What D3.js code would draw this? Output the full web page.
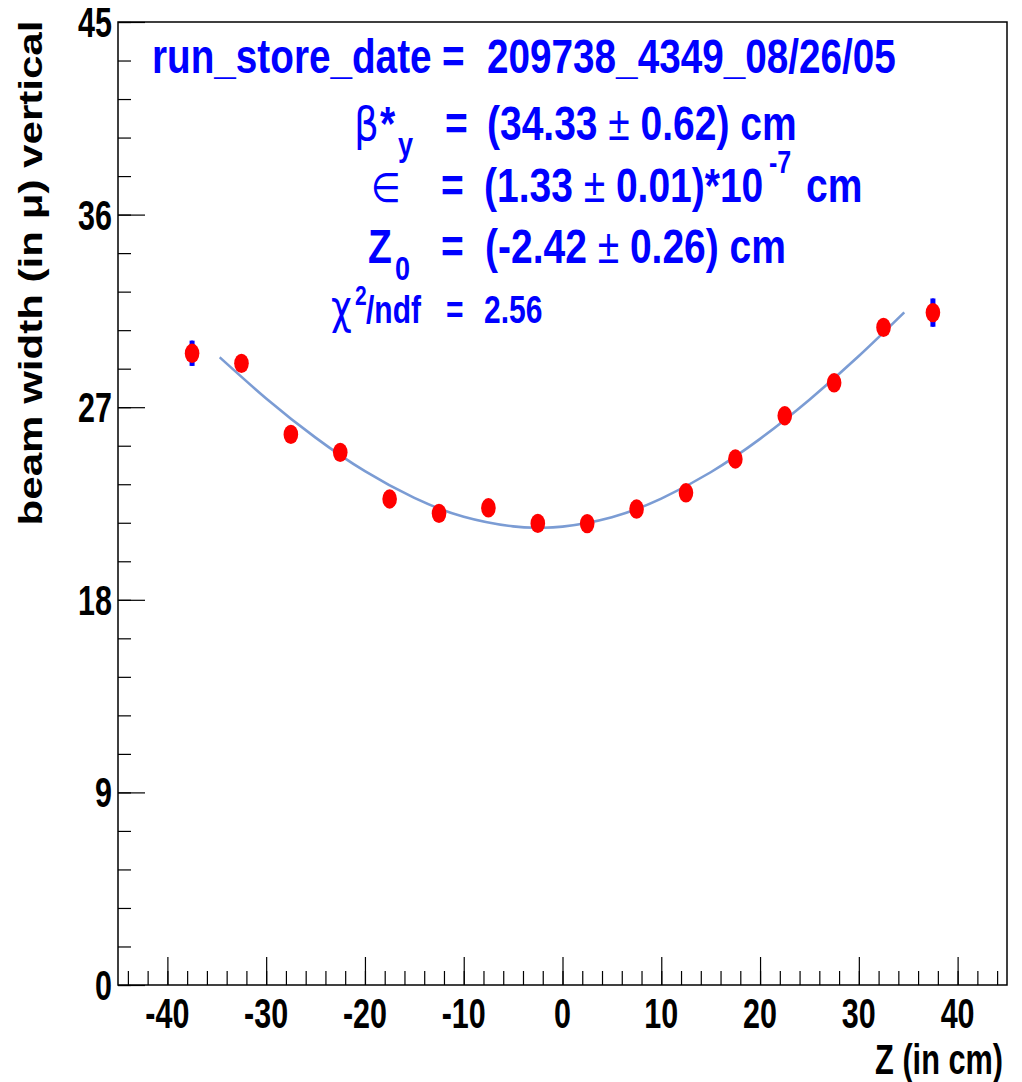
<!DOCTYPE html>
<html>
<head>
<meta charset="utf-8">
<script src="https://cdn.jsdelivr.net/npm/d3@7"></script>
<style>
  body { margin: 0; background: #fff; }
  svg { display: block; }
</style>
</head>
<body>
<div id="chart"></div>
<script>
// beam width vs z, with hourglass fit
const zPos = [-37.5, -32.5, -27.5, -22.5, -17.5, -12.5, -7.5, -2.5, 2.5, 7.5, 12.5, 17.5, 22.5, 27.5, 32.5, 37.5];
const beamWidth = [29.52, 29.05, 25.73, 24.89, 22.71, 22.04, 22.30, 21.57, 21.56, 22.24, 23.00, 24.58, 26.60, 28.14, 30.73, 31.42];
const widthErr = [0.59, 0.35, 0.35, 0.35, 0.35, 0.35, 0.35, 0.35, 0.35, 0.35, 0.35, 0.35, 0.35, 0.35, 0.35, 0.66];

// fit curve
const fitZ = [-34.7, -30, -25, -20, -15, -10, -5, -2.42, 0, 5, 10, 15, 20, 25, 30, 34.6];
const fitW = [29.33, 27.41, 25.58, 24.01, 22.76, 21.88, 21.43, 21.37, 21.42, 21.86, 22.73, 23.96, 25.52, 27.35, 29.39, 31.43];

const xTicks = [-40, -30, -20, -10, 0, 10, 20, 30, 40];
const yTicks = [0, 9, 18, 27, 36, 45];

const W = 1022, H = 1082;
const mLeft = 118, mRight = 1007, mTop = 22, mBottom = 985;
const BOLD = "'Liberation Sans', Arial, sans-serif";
const SYM = "'DejaVu Sans', 'Liberation Sans', sans-serif";
const blue = "#0000ff";

const x = d3.scaleLinear().domain([-45, 45]).range([mLeft, mRight]);
const y = d3.scaleLinear().domain([0, 45]).range([mBottom, mTop]);

const svg = d3.select("#chart").append("svg")
  .attr("width", W)
  .attr("height", H);

svg.append("rect").attr("width", W).attr("height", H).attr("fill", "#fff");

// small helper: text stretched vertically like the original
function txt(g, px, py, str, o) {
  o = o || {};
  return g.append("text")
    .attr("transform", `translate(${px},${py}) scale(${o.sx || 1},${o.sy || 1})`)
    .attr("font-family", o.family || BOLD)
    .attr("font-weight", o.weight || "bold")
    .attr("font-size", o.size || 30)
    .attr("text-anchor", o.anchor || "start")
    .attr("fill", o.fill || "#000")
    .text(str);
}

// frame
svg.append("rect")
  .attr("x", mLeft).attr("y", mTop)
  .attr("width", mRight - mLeft).attr("height", mBottom - mTop)
  .attr("fill", "none").attr("stroke", "#000").attr("stroke-width", 1.5);

// y axis ticks (pointing inward)
const yAx = svg.append("g").attr("transform", `translate(${mLeft},0)`);
yAx.call(d3.axisRight(y).tickValues(d3.range(0, 45.01, 1.8)).tickSize(13).tickFormat(""));
yAx.append("g").call(d3.axisRight(y).tickValues(yTicks).tickSize(27).tickFormat(""));
yAx.selectAll(".domain").remove();
yAx.selectAll("line").attr("stroke", "#000").attr("stroke-width", 1.2);

// x axis ticks
const xAx = svg.append("g").attr("transform", `translate(0,${mBottom})`);
xAx.call(d3.axisTop(x).tickValues(d3.range(-44, 44.01, 2)).tickSize(14).tickFormat(""));
xAx.append("g").call(d3.axisTop(x).tickValues(xTicks).tickSize(28).tickFormat(""));
xAx.selectAll(".domain").remove();
xAx.selectAll("line").attr("stroke", "#000").attr("stroke-width", 1.2);

// tick labels
const tk = { size: 30.5, sy: 1.37 };
yTicks.forEach(v => txt(svg, 112, y(v) + 15, String(v), Object.assign({ anchor: "end" }, tk)));
xTicks.forEach(v => txt(svg, x(v), 1028, String(v), Object.assign({ anchor: "middle" }, tk)));

// axis titles
txt(svg, 1003, 1074, "Z (in cm)", { size: 30.7, sy: 1.37, anchor: "end" });
const yl = svg.append("text")
  .attr("font-family", BOLD).attr("font-weight", "bold").attr("font-size", 33)
  .attr("text-anchor", "middle").attr("fill", "#000")
  .text("beam width (in μ) vertical");
const ylLen = yl.node().getComputedTextLength();
yl.attr("transform", `translate(42,273) rotate(-90) scale(${505 / ylLen},1)`);

// fit curve
svg.append("path")
  .datum(fitZ.map((z, i) => [z, fitW[i]]))
  .attr("d", d3.line().x(d => x(d[0])).y(d => y(d[1])).curve(d3.curveNatural))
  .attr("fill", "none")
  .attr("stroke", "#7b9cd4")
  .attr("stroke-width", 2.6);

// error bars
const pts = zPos.map((z, i) => ({ z, w: beamWidth[i], e: widthErr[i] }));
const eb = svg.append("g").attr("fill", blue);
eb.selectAll("line").data(pts).join("line")
  .attr("x1", d => x(d.z)).attr("x2", d => x(d.z))
  .attr("y1", d => y(d.w + d.e)).attr("y2", d => y(d.w - d.e))
  .attr("stroke", blue).attr("stroke-width", 2);
eb.selectAll("rect.up").data(pts).join("rect").attr("class", "up")
  .attr("x", d => x(d.z) - 2.5).attr("y", d => y(d.w + d.e))
  .attr("width", 5).attr("height", 6);
eb.selectAll("rect.dn").data(pts).join("rect").attr("class", "dn")
  .attr("x", d => x(d.z) - 2.5).attr("y", d => y(d.w - d.e) - 6)
  .attr("width", 5).attr("height", 6);

// markers
svg.selectAll("ellipse.pt").data(pts).join("ellipse").attr("class", "pt")
  .attr("cx", d => x(d.z)).attr("cy", d => y(d.w))
  .attr("rx", 7.3).attr("ry", 9.7)
  .attr("fill", "#ff0000");

// fit results text
const T = svg.append("g");
const big = { size: 39, sy: 1.25, fill: blue };
const sub = { size: 27, sy: 1.25, fill: blue };
const sym = { size: 39, sy: 1.2, fill: blue, weight: "normal", family: SYM };

function pm(t) {
  // value text with a thin ± in it
  const parts = t.node().textContent.split("±");
  t.text(null);
  t.append("tspan").text(parts[0]);
  t.append("tspan").attr("font-weight", "normal").text("±");
  t.append("tspan").text(parts[1]);
}

txt(T, 152, 73, "run_store_date", Object.assign({}, big, { size: 38.7 }));
txt(T, 442, 73, "=", Object.assign({}, big, { size: 38.7 }));
txt(T, 487, 73, "209738_4349_08/26/05", Object.assign({}, big, { size: 38.7 }));

txt(T, 354, 140, "β", sym);
txt(T, 380, 140, "*", big);
txt(T, 398, 156, "y", sub);
txt(T, 445, 140, "=", big);
pm(txt(T, 487, 140, "(34.33 ± 0.62) cm", big));

txt(T, 371, 202, "∈", Object.assign({}, sym, { size: 34 }));
txt(T, 441, 202, "=", big);
pm(txt(T, 484, 202, "(1.33 ± 0.01)*10", big));
txt(T, 769, 173, "-7", Object.assign({}, sub, { size: 25 }));
txt(T, 806, 202, "cm", big);

txt(T, 368, 263, "Z", big);
txt(T, 395, 280, "0", sub);
txt(T, 441, 263, "=", big);
pm(txt(T, 485, 263, "(-2.42 ± 0.26) cm", big));

const sm = { size: 30, sy: 1.3, fill: blue };
txt(T, 331, 323, "χ", Object.assign({}, sm, { size: 36, weight: "normal", family: SYM }));
txt(T, 355, 305, "2", Object.assign({}, sm, { size: 21 }));
txt(T, 366, 323, "/ndf", sm);
txt(T, 446, 323, "=", sm);
txt(T, 484, 323, "2.56", sm);
</script>
</body>
</html>
